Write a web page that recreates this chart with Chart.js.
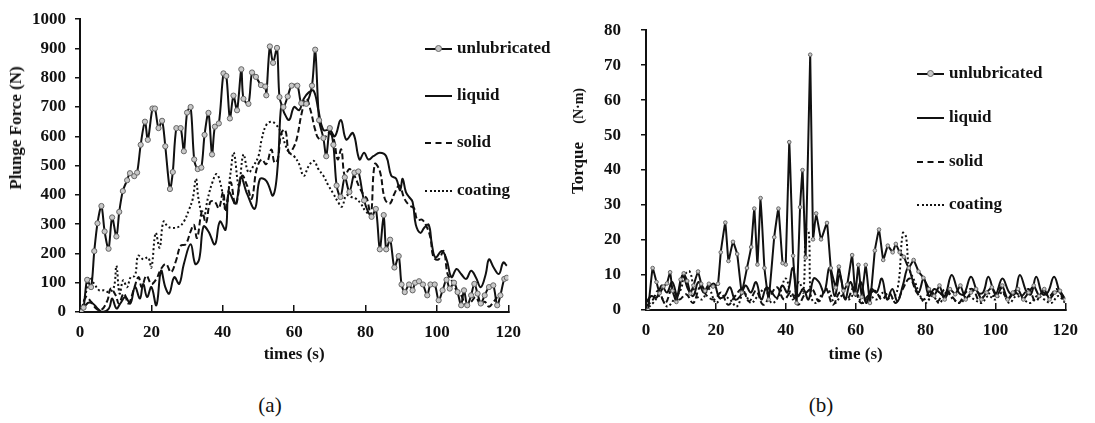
<!DOCTYPE html>
<html>
<head>
<meta charset="utf-8">
<script src="https://cdn.jsdelivr.net/npm/chart.js@4.4.1/dist/chart.umd.min.js"></script>
<style>
body{margin:0;background:#fff;font-family:"Liberation Serif","Times New Roman",serif;color:#111;}
#page{position:relative;width:1095px;height:423px;overflow:hidden;}
canvas{position:absolute;top:0;}
.ytitle{position:absolute;font-weight:bold;font-size:17px;white-space:nowrap;transform:translate(-50%,-50%) rotate(-90deg);}
.leg{position:absolute;font-weight:bold;font-size:17px;white-space:nowrap;}
.sw{position:absolute;top:50%;width:27px;height:0;border-top:2px solid #111;}
.dot{position:absolute;top:50%;left:10px;width:5px;height:5px;margin-top:-3px;border-radius:50%;background:#c8c8c8;border:1px solid #666;}
.cap{position:absolute;font-size:21px;transform:translate(-50%,-50%);}
</style>
</head>
<body>
<div id="page">
  <canvas id="chartA" width="538" height="370" style="left:0"></canvas>
  <canvas id="chartB" width="545" height="370" style="left:550px"></canvas>
  <div class="ytitle" style="left:16px;top:128px">Plunge Force (N)</div>
  <div class="ytitle" style="left:578px;top:141px">Torque <span style="font-size:14px;margin-left:14px">(N·m)</span></div>
  <div class="cap" style="left:270px;top:405px">(a)</div>
  <div class="cap" style="left:821px;top:405px">(b)</div>
</div>
<script>
// series names and tick labels
const seriesNames = ["unlubricated", "liquid", "solid", "coating"];
const timeTicks = [0, 20, 40, 60, 80, 100, 120];
const forceTicks = [0, 100, 200, 300, 400, 500, 600, 700, 800, 900, 1000];
const torqueTicks = [0, 10, 20, 30, 40, 50, 60, 70, 80];

// (a) plunge force, N
const aTimeUnlub = [0.3,1,2,3.1,4,4.9,6,6.9,8,9,10.2,11,12,13.2,14,15.2,16,17,18.2,19,20.3,21,22,23,23.9,25.2,26,27,28.2,29.1,30,31,32,33,34,34.9,36,37,37.8,38.9,40.2,41,42,43,44,45.2,45.8,47.2,48.2,49.3,50.7,51.9,52.2,53.2,54.1,55.2,55.9,57,58.2,59.3,60.9,62,63.4,65,65.9,67,68.2,69,70,71,71.9,73,74.2,75.5,76.9,78,79.6,81.7,82.9,84,85.1,85.8,86.9,88.1,89.3,90.1,91,92.2,93.2,93.9,95,96.1,97.3,98.2,99.4,100.5,101.6,102.7,103.6,104.8,105.8,106.8,107.6,108.5,109.6,110.5,111.4,112.3,113.4,114.6,115.8,116.9,117.8,118.9,119.6];
const aForceUnlub = [0,15,110,85,208,303,362,275,216,323,258,342,413,450,474,464,476,571,650,588,695,695,628,653,566,420,478,628,628,549,681,700,521,488,493,605,680,538,633,644,815,806,661,739,689,829,728,711,818,803,775,770,740,907,851,902,734,700,736,773,773,713,711,773,896,655,594,532,628,571,432,393,460,410,476,480,381,325,352,214,331,214,247,152,191,94,68,94,74,100,105,94,57,94,94,40,74,110,80,100,68,23,74,23,57,96,63,29,57,85,91,23,57,113,117];

const aTimeLiquid = [0.4,2.2,3.6,4.9,6.3,8.1,9,10.2,11.3,12.7,14.1,15.4,16.8,17.7,18.8,20,21.4,22.7,23.9,25,26.4,27.8,29.1,31,32.3,33.4,34.6,36,37.8,39.2,40.8,41.7,43.6,45.1,46.8,49,50.4,52.2,54.1,55.4,56.4,57.3,58.6,60,61.4,62.7,64.1,65.5,66.8,68.2,70,71.4,73.1,74.6,76.5,78.3,79.6,80.8,82.2,84,85.8,87.2,88.6,89.7,90.4,91.3,92.2,93.2,94.1,95.4,96.4,97.7,98.6,99.6,101.4,102.7,104.1,105.5,106.8,108.2,109.6,110.9,112.3,113.7,114.6,115.9,117.4,118.6,119.6];
const aForceLiquid = [0,31,29,12,0,12,46,12,29,51,29,85,46,96,51,85,23,141,85,63,119,96,164,231,164,180,292,275,231,309,281,409,370,459,404,353,454,448,398,499,706,678,656,700,689,728,750,755,689,622,622,600,656,589,611,521,544,521,532,544,532,466,455,415,455,410,393,376,298,270,287,298,231,186,208,180,119,147,130,113,141,119,85,130,180,152,130,169,158];

const aTimeSolid = [0.4,1.7,3.1,4.5,5.9,7.7,8.6,10,10.9,12.3,13.6,15,16.4,17.3,18.6,20,21.4,22.7,24.1,25.5,26.9,28.2,29.6,31,31.9,32.8,34.2,35.3,36.5,37.8,38.9,40.1,40.8,42.2,43.6,45.4,46.8,48.1,49.5,50.9,52.2,53.6,54.5,55.4,56.4,57.5,58.6,60,60.9,62.1,63.4,64.6,65.9,66.8,68.2,69.6,71,72.2,73.2,74.2,75.5,76.9,78.3,79.6,80.4,81.5,82.6,84,85.4,86.8,88.1,89.5,90.9,92.2,93.6,94.5,95.9,97.3,98.2,99.1,100.5,101.9,103,104.1,105.5,106.8,108.2,109.6,110.9,112.3,113.4,114.6,115.9,116.9];
const aForceSolid = [6,51,35,12,6,40,80,57,29,63,29,74,119,85,124,96,113,147,164,136,175,226,231,275,298,253,343,304,376,376,354,410,343,443,365,465,432,387,488,521,505,555,510,521,611,622,544,566,600,678,728,689,622,594,589,611,594,521,555,465,488,465,426,398,387,331,505,482,387,370,404,432,387,365,354,315,315,287,253,186,180,208,130,108,74,57,23,35,51,23,35,18,35,51];

const aTimeCoating = [0.4,1.7,2.6,4,5.4,6.8,8.1,9.5,10.2,11.1,12.1,13.2,14.2,15.4,16.3,17.7,19.1,20,21.2,22.3,23.4,24.6,26,27.8,29.1,30.5,31.6,32.5,33.2,34.6,35.8,37.1,38.3,39.5,40.8,42.2,43.1,44.5,45.8,47.2,48.6,50,50.9,52.2,53.6,55,56.4,57.7,58.6,60,61.4,62.7,64.1,65.5,66.8,68.2,69.6,71,72.3,73.4,74.6,76,77.3,78.7,80.1,81.7];
const aForceCoating = [6,68,119,96,74,74,68,85,158,63,108,85,119,124,192,180,186,152,270,220,309,292,287,292,309,348,387,455,387,320,387,443,471,432,354,477,544,432,538,477,499,532,589,639,650,639,611,566,544,532,505,465,499,516,488,465,432,404,376,360,398,393,387,370,343,331];

// (b) torque, N·m
const bTimeUnlub = [0.6,1.9,3,3.9,5,6,6.9,7.6,8.7,9.9,10.8,11.8,12.7,13.6,14.9,15.8,16.9,18,19.2,20.6,21.4,22.7,23.6,24.9,26.1,27.4,28.9,30.1,31,31.9,32.8,33.9,35.1,36.7,37.9,39.1,40,41,42.1,43.1,44.1,44.8,45.7,47,47.8,48.7,50.1,51.8,52.9,54.3,55.2,56.5,57.6,59,59.9,60.8,61.7,62.9,64.1,65.5,66.7,67.9,69.2,70.6,71.5,72.6,73.8,75.2,76.6,78,79.4,81,82.5,84,85.5,87,88.5,90,91.5,93,94.5,96,97.5,99,100.5,102,103.5,105,106.5,108,109.5,111,112.5,114,115.5,117,118.5,120];
const bTorqueUnlub = [0,12,8,4.8,6.7,7.6,10.8,5.5,2.3,8.7,10.5,8.3,4.7,7,11,7.5,5.5,7.5,6.7,7.5,16.5,25,14,19.5,16,5,12,18,29,13,32,12,3,20.8,29,13.4,13,48,15.5,2,29.4,40,15,73,20.2,27.6,20.2,24.9,12,6.4,12.4,5.5,7.3,15.7,4.6,12.9,3.7,12.9,2,17,23,14.3,18.4,16.5,18.9,16.5,15.2,12,14.3,11,9.2,6,4,7,3,6,4.5,7,3,5,6,3,5,6.5,4,7,3,5,6,3,5,7,4,6,3,5,5.5,3];

const bTimeLiquid = [0,1.5,3,4.5,6,7.5,9,10.5,12,13.5,15,16.5,18,19.5,21,22.5,24,25.5,27,28.5,30,31.5,33,34.5,36,37.5,39,40.5,42,43.5,45,46.5,48,49.5,51,52.5,54,55.5,57,58.5,60,61.5,63,64.5,66,67.5,69,70.5,72,73.5,75,76.5,78,79.5,81,82.5,84,85.5,87.5,89.5,91,93,95,96.5,98,100,102,104,105.5,107,109,110.2,111.7,113.5,115,116.8,118.5,120];
const bTorqueLiquid = [2,4,3.5,7,5,8,4,10,6,4,8,5,6.5,7.5,3.5,4,6.5,3,4,7,5,8,3,6.5,5,3.5,7,5,12,4,6,3,9,8,5,12,4,10,3,8,4,8,2,6,5,9,3,6,2.5,7,12,8,5,9,4,6,5,4,10,5,4.5,9.5,5,5,9.5,4.5,9,5,4.5,10,5,4.5,9.5,4.5,5,9.5,5,3];

const bTimeSolid = [0,2,3.5,5.5,7.5,9.5,11.5,13.5,15.5,17.5,19.5,21.5,23.5,25.5,27.5,29.5,31.5,33.5,35.5,37.5,39.5,41.5,43.5,45.5,47.5,49.5,51.5,53.5,55.5,57.5,59.5,61.5,63.5,65.5,67.5,69.5,71.5,73.5,75.5,77.5,79.5,81.5,83.5,85.5,87.5,89.5,91.5,93.5,95.5,97.5,99.5,101.5,103.5,105.5,107.5,109.5,111.5,113.5,115.5,117.5,119.5];
const bTorqueSolid = [1,3,5.5,2,6,3,4.5,2,6.5,4,3,5,1.5,4,6,2.5,5.5,1.5,4,6.5,3,5,1.5,4.5,6,2.5,6,1.5,5,3,6.5,2,4,5.5,3,5,2,6,9,5,3,5.5,2.5,6,4,2,5,6,2.5,5,4,6.5,3,5,4,6,2.5,5,4,6,3];

const bTimeCoating = [0,2,4,6,8,10,11,12.5,14,16,18,20,22,24,26,28,30,32,34,36,38,40,42,43.8,45,45.8,46.6,47.2,48.5,50,52,54,56,58,60,62,64,66,68,70,72,73.5,74.4,75.3,77,78.5,80,82,84,86,88,90,92,94,96,98,100,102,104,106,108,110,112,114,116,118,120];
const bTorqueCoating = [0,2,4,1,3,6,10,11,5,3,6,2,4,3,1,5,2,4,6,2,4,9,3,8,5,23,22,4,2,4,6,2,4,3,5,2,4,3,5,3,6,22,21,12,8,4,2,4,2,5,3,2,4,3,2,4,3,5,2,4,3,2,4,3,2,4,2];

const serifFont = "'Liberation Serif','Times New Roman',serif";

function pts(xs, ys){
    return xs.map((x,i)=>({x:x, y:ys[i]}));
}

function makeSets(series, markerRadius, unlubTension){
    return [
        {label:seriesNames[0], data:pts(series[0][0],series[0][1]), borderColor:"#111", borderWidth:2,
         pointRadius:markerRadius, pointBackgroundColor:"#c8c8c8", pointBorderColor:"#666", pointBorderWidth:1, tension:unlubTension},
        {label:seriesNames[1], data:pts(series[1][0],series[1][1]), borderColor:"#111", borderWidth:2, pointRadius:0, tension:0.4},
        {label:seriesNames[2], data:pts(series[2][0],series[2][1]), borderColor:"#111", borderWidth:2, borderDash:[6,3], pointRadius:0, tension:0.4},
        {label:seriesNames[3], data:pts(series[3][0],series[3][1]), borderColor:"#111", borderWidth:2, borderDash:[2,2.5], pointRadius:0, tension:0.4}
    ];
}

function makeChart(id, series, yTicks, yMax, xTitle, yWidth, pad, markerRadius, unlubTension){
    return new Chart(document.getElementById(id), {
        type:"line",
        data:{datasets:makeSets(series, markerRadius, unlubTension)},
        options:{
            responsive:false,
            devicePixelRatio:1,
            animation:false,
            events:[],
            layout:{padding:pad},
            plugins:{legend:{display:false}, tooltip:{enabled:false}},
            scales:{
                x:{
                    type:"linear", min:0, max:120,
                    afterBuildTicks:s=>{ s.ticks = timeTicks.map(v=>({value:v})); },
                    afterFit:s=>{ s.height = pad.bottomAxis; },
                    grid:{drawOnChartArea:false, drawTicks:true, tickLength:-7, color:"#111", lineWidth:1.5},
                    border:{color:"#111", width:2},
                    ticks:{color:"#111", padding:17, maxRotation:0, autoSkip:false, callback:v=>String(v),
                           font:{family:serifFont, size:17, weight:"bold"}},
                    title:{display:true, text:xTitle, color:"#111", padding:{top:0, bottom:5}, font:{family:serifFont, size:17, weight:"bold"}}
                },
                y:{
                    min:0, max:yMax,
                    afterBuildTicks:s=>{ s.ticks = yTicks.map(v=>({value:v})); },
                    afterFit:s=>{ s.width = yWidth; },
                    grid:{drawOnChartArea:false, drawTicks:true, tickLength:5, color:"#111", lineWidth:1.5},
                    border:{color:"#111", width:2},
                    ticks:{color:"#111", padding:pad.yLabel, callback:v=>String(v),
                           font:{family:serifFont, size:17, weight:"bold"}}
                }
            }
        }
    });
}

const padA = {top:14, right:20, left:0, bottom:0, bottomAxis:58, yLabel:9};
const padB = {top:20, right:18, left:0, bottom:0, bottomAxis:60, yLabel:20};

makeChart("chartA",
    [[aTimeUnlub,aForceUnlub],[aTimeLiquid,aForceLiquid],[aTimeSolid,aForceSolid],[aTimeCoating,aForceCoating]],
    forceTicks, 1000, "times (s)", 80, padA, 2.6, 0.3);

makeChart("chartB",
    [[bTimeUnlub,bTorqueUnlub],[bTimeLiquid,bTorqueLiquid],[bTimeSolid,bTorqueSolid],[bTimeCoating,bTorqueCoating]],
    torqueTicks, 80, "time (s)", 96, padB, 1.8, 0.1);

// legends, placed like the figure
const dashStyles = ["solid","solid","dashed","dotted"];
function addLegend(x, ys){
    const page = document.getElementById("page");
    seriesNames.forEach((name,i)=>{
        const item = document.createElement("div");
        item.className = "leg";
        item.style.left = x + "px";
        item.style.top = (ys[i] - 11) + "px";
        item.style.height = "22px";
        item.style.lineHeight = "22px";
        item.style.paddingLeft = "32px";
        let sw = '<div class="sw" style="left:0;border-top-style:' + dashStyles[i] + '"></div>';
        if(i===0) sw += '<div class="dot"></div>';
        item.innerHTML = sw + name;
        page.appendChild(item);
    });
}
addLegend(425, [48, 95, 142, 190]);
addLegend(917, [73, 117, 161, 204]);
</script>
</body>
</html>
